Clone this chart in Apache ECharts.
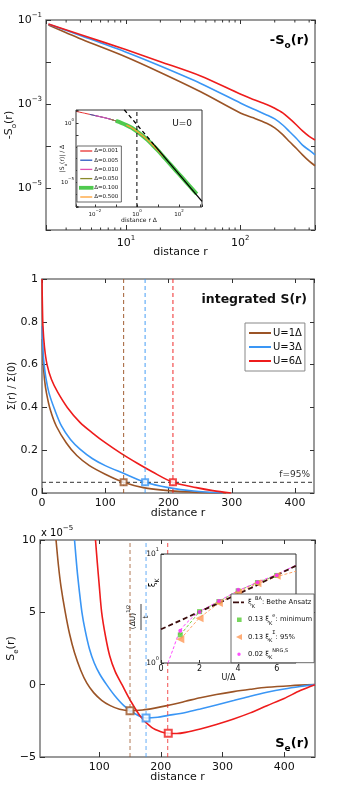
<!DOCTYPE html>
<html><head><meta charset="utf-8">
<script src="https://cdn.jsdelivr.net/npm/echarts@6/dist/echarts.min.js"></script>
<style>html,body{margin:0;padding:0;background:#fff}#c{width:349px;height:788px}</style>
</head><body><div id="c"></div>
<script>
// ---------------- Panel 1 : -S_o(r) (log-log) ----------------
const p1R        = [2.1, 4.1, 9.8, 20, 45, 101, 130, 170, 200, 235, 270, 310, 350, 400, 450];
const p1RedExp   = [-1.095, -1.357, -1.698, -1.993, -2.333, -2.77, -2.89, -3.01, -3.10, -3.21, -3.35, -3.50, -3.64, -3.77, -3.857];
const p1BlueExp  = [-1.10, -1.38, -1.755, -2.095, -2.51, -2.98, -3.12, -3.26, -3.355, -3.50, -3.66, -3.82, -3.98, -4.10, -4.21];
const p1BrownExp = [-1.12, -1.46, -1.87, -2.25, -2.71, -3.22, -3.33, -3.46, -3.57, -3.73, -3.90, -4.06, -4.21, -4.36, -4.47];
const p1MinorTicks = [3,4,5,6,7,8,9,20,30,40,50,60,70,80,90,200,300,400];
const p1XLabelExp = [1, 2];
const p1YLabelExp = [-1, -3, -5];

// inset of panel 1 (U=0 scaling collapse), log10 values
const insLogX = [-2.86,-2.5,-2.25,-2,-1.75,-1.5,-1.25,-1,-0.75,-0.5,-0.25,0,0.25,0.5,0.75,1,1.25,1.5,1.75,2,2.25,2.5,2.85];
const insLogY = [1.0,0.86,0.76,0.66,0.56,0.46,0.34,0.2,0.04,-0.15,-0.38,-0.68,-1.02,-1.4,-1.84,-2.3,-2.8,-3.3,-3.8,-4.3,-4.8,-5.3,-6.0];
const deltaNames  = ['Δ=0.001','Δ=0.005','Δ=0.010','Δ=0.050','Δ=0.100','Δ=0.500'];
const deltaFrom   = [-2.86, -2.25, -2.0, -1.25, -1.0, -0.5];
const deltaTo     = [0.75, 1.5, 1.75, 2.0, 2.85, 1.25];
const powerLawDashLog  = [[-0.6, 1.15], [0.83, -1.85]];
const powerLawSolidLog = [[0.83, -1.85], [3.1, -6.62]];
const insXLabelExp = [-2, 0, 2];
const insYLabelExp = [0, -5];

// ---------------- Panel 2 : integrated S(r) ----------------
const p2RedR   = [0, 0.5, 1.5, 4, 8, 15, 25, 40, 60, 80, 100, 125, 150, 175, 207, 244, 270, 299];
const p2RedV   = [1.0, 0.9, 0.78, 0.68, 0.6, 0.53, 0.47, 0.40, 0.33, 0.28, 0.235, 0.185, 0.14, 0.098, 0.05, 0.025, 0.011, 0.0];
const p2BlueR  = [0.5, 1, 2.7, 6, 11, 20, 31, 45, 60, 80, 100, 128, 163, 200, 240, 286];
const p2BlueV  = [0.78, 0.7, 0.62, 0.54, 0.468, 0.39, 0.312, 0.25, 0.205, 0.16, 0.128, 0.093, 0.05, 0.025, 0.009, 0.0];
const p2BrownR = [0.5, 1, 1.6, 4, 7, 13, 22.7, 38.5, 55, 75, 100, 129, 160, 200, 245, 291];
const p2BrownV = [0.72, 0.66, 0.62, 0.53, 0.468, 0.39, 0.312, 0.234, 0.175, 0.128, 0.088, 0.05, 0.025, 0.011, 0.003, 0.0];
const p2CutR   = [129, 163, 207];   // brown, blue, red
const p2Threshold = 0.05;
const p2Names  = ['U=1Δ', 'U=3Δ', 'U=6Δ'];

// ---------------- Panel 3 : S_e(r) (x 1e-5) ----------------
const p3BrownR = [30, 34, 38, 45, 52, 60, 70, 80, 91, 104, 118, 133, 150, 170, 190, 210, 240, 264, 290, 318, 345, 372, 410, 450];
const p3BrownV = [10, 8.2, 6.8, 5, 3.5, 2.2, 1.0, 0.1, -0.55, -1.08, -1.45, -1.7, -1.8, -1.75, -1.62, -1.45, -1.15, -0.9, -0.68, -0.48, -0.32, -0.18, -0.07, 0];
const p3BlueR  = [60, 64, 68, 72, 77, 84, 92, 101, 112, 125, 140, 157, 176, 195, 210, 240, 264, 290, 318, 345, 372, 400, 426, 450];
const p3BlueV  = [10, 8.0, 6.4, 5.0, 3.8, 2.5, 1.5, 0.72, 0, -0.75, -1.45, -1.98, -2.3, -2.25, -2.14, -1.92, -1.68, -1.4, -1.1, -0.8, -0.53, -0.3, -0.13, 0];
const p3RedR   = [94, 97, 100, 104, 110, 117, 126, 137, 150, 167, 185, 200, 212, 226, 240, 264, 290, 318, 345, 372, 400, 426, 450];
const p3RedV   = [10, 8.4, 6.9, 5.0, 3.4, 2.0, 0.9, 0, -1.05, -2.2, -2.95, -3.25, -3.36, -3.38, -3.3, -3.06, -2.75, -2.37, -1.95, -1.45, -0.95, -0.41, 0];
const p3MinR   = [150, 176, 212];
const p3MinV   = [-1.8, -2.3, -3.36];
const p3CutR   = [150, 176, 211];

// inset of panel 3 : xi_K vs U/Delta
const insU    = [1, 2, 3, 4, 5, 6];
const insMin  = [1.81, 2.96, 3.66, 4.59, 5.48, 6.36];
const ins95   = [1.65, 2.58, 3.55, 4.43, 5.4, 6.3];
const insNRG  = [1.98, 2.93, 3.7, 4.7, 5.5, 6.4];
const baU     = [0, 1, 2, 3, 4, 5, 6, 7];
const baXi    = [2.04, 2.45, 2.96, 3.55, 4.3, 5.2, 6.4, 7.8];
const nrgFitU = [0.36, 0.6, 1, 1.5, 2, 3, 4, 5, 6, 7];
const nrgFitXi= [1.0, 1.3, 1.98, 2.5, 2.95, 3.7, 4.6, 5.5, 6.5, 7.9];
const fit95U  = [1, 2, 3, 4, 5, 6, 7];
const fit95Xi = [1.65, 2.6, 3.55, 4.45, 5.35, 6.2, 6.95];

// ---------------- styling ----------------
const FONT = 'DejaVu Sans';
const TXT = '#111';
const C_RED = '#ee1c1c', C_BLUE = '#3a96f5', C_BROWN = '#9b5426';
const deltaColors = ['#e83030', '#2a56c0', '#e050b0', '#8a8a2a', '#4fca4f', '#ffa030'];
const deltaWidths = [1, 1, 1, 1, 4, 1.2];

function rich(f, bold) {
  const w = bold ? 'bold' : 'normal';
  return {
    b:   {fontSize: f, lineHeight: f + 6, fontWeight: w, fontFamily: FONT, color: TXT},
    sup: {fontSize: Math.max(4, Math.round(f * 0.68)), verticalAlign: 'top', fontWeight: w, fontFamily: FONT, color: TXT},
    sub: {fontSize: Math.max(4, Math.round(f * 0.68)), verticalAlign: 'bottom', fontWeight: w, fontFamily: FONT, color: TXT}
  };
}
function powLabel(list) {
  return function (v) {
    const l = Math.log10(v), e = Math.round(l);
    if (Math.abs(l - e) > 1e-6 || list.indexOf(e) < 0) return '';
    return '{b|10}{sup|' + (e < 0 ? '−' + (-e) : e) + '}';
  };
}
const tickIn = (len) => ({inside: true, length: len, lineStyle: {color: '#333', width: 1}});
const noLine = {show: false, onZero: false};
function mirrorX(grid, type, min, max, extra) {
  return Object.assign({gridIndex: grid, type: type, min: min, max: max, position: 'top',
    axisLine: noLine, axisLabel: {show: false}, axisTick: tickIn(4), splitLine: {show: false}}, extra || {});
}
function mirrorY(grid, type, min, max, extra) {
  return Object.assign({gridIndex: grid, type: type, min: min, max: max, position: 'right',
    axisLine: noLine, axisLabel: {show: false}, axisTick: tickIn(4), splitLine: {show: false}}, extra || {});
}
const nameStyle = (f) => ({fontSize: f, fontFamily: FONT, color: TXT});
const P1 = {xmin: 2, xmax: 450, ymin: 1e-6, ymax: 0.1};
const I1 = {xmin: Math.pow(10, -2.9), xmax: Math.pow(10, 3.1), ymin: Math.pow(10, -7.1), ymax: Math.pow(10, 1.13)};

const gridBase = {show: true, containLabel: false, outerBoundsMode: 'none'};
const grids = [
  Object.assign({left: 46, top: 20, width: 269, height: 210, borderColor: '#7a7a7a', borderWidth: 1.5}, gridBase),
  Object.assign({left: 76, top: 110, width: 126, height: 97, borderColor: '#333', borderWidth: 1, backgroundColor: '#fff', z: 5}, gridBase),
  Object.assign({left: 42, top: 279, width: 272, height: 214, borderColor: '#7a7a7a', borderWidth: 1.5}, gridBase),
  Object.assign({left: 40, top: 540, width: 275, height: 217, borderColor: '#7a7a7a', borderWidth: 1.5}, gridBase),
  Object.assign({left: 161, top: 554, width: 135, height: 109, borderColor: '#333', borderWidth: 1, backgroundColor: '#fff', z: 5}, gridBase)
];
const NM = {nameMoveOverlap: false};

const xAxes = [
  Object.assign({gridIndex: 0, type: 'log', logBase: 10, min: P1.xmin, max: P1.xmax, axisLine: noLine, axisTick: tickIn(5), splitLine: {show: false},
   axisLabel: {formatter: powLabel(p1XLabelExp), rich: rich(11), margin: 5},
   name: 'distance r', nameLocation: 'middle', nameGap: 17, nameTextStyle: nameStyle(11)}, NM),
  mirrorX(0, 'log', P1.xmin, P1.xmax, {logBase: 10}),
  Object.assign({gridIndex: 1, type: 'log', logBase: 10, min: I1.xmin, max: I1.xmax, z: 6, axisLine: noLine, axisTick: tickIn(2.5), splitLine: {show: false},
   axisLabel: {formatter: powLabel(insXLabelExp), rich: rich(5.5), margin: 2},
   name: 'distance r Δ', nameLocation: 'middle', nameGap: 10, nameTextStyle: nameStyle(6)}, NM),
  Object.assign({gridIndex: 2, type: 'value', min: 0, max: 430, interval: 100, axisLine: noLine, axisTick: tickIn(5), splitLine: {show: false},
   axisLabel: {fontSize: 11, fontFamily: FONT, color: TXT, margin: 5, showMaxLabel: false},
   name: 'distance r', nameLocation: 'middle', nameGap: 15, nameTextStyle: nameStyle(11)}, NM),
  mirrorX(2, 'value', 0, 430, {interval: 100}),
  Object.assign({gridIndex: 3, type: 'value', min: 4, max: 450, splitNumber: 4, axisLine: noLine, axisTick: tickIn(5), splitLine: {show: false},
   axisLabel: {fontSize: 11, fontFamily: FONT, color: TXT, margin: 5, showMinLabel: false, showMaxLabel: false},
   name: 'distance r', nameLocation: 'middle', nameGap: 15, nameTextStyle: nameStyle(11)}, NM),
  mirrorX(3, 'value', 4, 450, {splitNumber: 4}),
  Object.assign({gridIndex: 4, type: 'value', min: 0, max: 7, interval: 2, z: 6, axisLine: noLine, axisTick: tickIn(3), splitLine: {show: false},
   axisLabel: {fontSize: 8, fontFamily: FONT, color: TXT, margin: 2, showMaxLabel: false},
   name: 'U/Δ', nameLocation: 'middle', nameGap: 11, nameTextStyle: nameStyle(8)}, NM)
];
const yAxes = [
  Object.assign({gridIndex: 0, type: 'log', logBase: 10, min: P1.ymin, max: P1.ymax, axisLine: noLine, axisTick: tickIn(5), splitLine: {show: false},
   axisLabel: {formatter: powLabel(p1YLabelExp), rich: rich(11), margin: 4},
   name: '{b|-S}{sub|o}{b|(r)}', nameLocation: 'middle', nameGap: 28, nameRotate: 90, nameTextStyle: {rich: rich(11)}}, NM),
  mirrorY(0, 'log', P1.ymin, P1.ymax, {logBase: 10}),
  Object.assign({gridIndex: 1, type: 'log', logBase: 10, min: I1.ymin, max: I1.ymax, z: 6, axisLine: noLine, axisTick: tickIn(2.5), splitLine: {show: false},
   axisLabel: {formatter: powLabel(insYLabelExp), rich: rich(5.5), margin: 2},
   name: '{b||S}{sub|o}{b|(r)| / Δ}', nameLocation: 'middle', nameGap: 8, nameRotate: 90, nameTextStyle: {rich: rich(6)}}, NM),
  Object.assign({gridIndex: 2, type: 'value', min: 0, max: 1, interval: 0.2, axisLine: noLine, axisTick: tickIn(5), splitLine: {show: false},
   axisLabel: {fontSize: 11, fontFamily: FONT, color: TXT, margin: 4},
   name: 'Σ(r) / Σ(0)', nameLocation: 'middle', nameGap: 25, nameRotate: 90, nameTextStyle: nameStyle(10)}, NM),
  mirrorY(2, 'value', 0, 1, {interval: 0.2}),
  Object.assign({gridIndex: 3, type: 'value', min: -5, max: 10, interval: 5, axisLine: noLine, axisTick: tickIn(5), splitLine: {show: false},
   axisLabel: {fontSize: 11, fontFamily: FONT, color: TXT, margin: 4, formatter: v => String(v).replace('-', '−')},
   name: '{b|S}{sub|e}{b|(r)}', nameLocation: 'middle', nameGap: 20, nameRotate: 90, nameTextStyle: {rich: rich(11)}}, NM),
  mirrorY(3, 'value', -5, 10, {interval: 5}),
  {gridIndex: 4, type: 'log', logBase: 10, min: 1, max: 10, z: 6, axisLine: noLine, axisTick: tickIn(3), splitLine: {show: false},
   axisLabel: {formatter: powLabel([0, 1]), rich: rich(7.5), margin: 2}}
];

const series = [];
function line(xi, yi, data, color, width, extra) {
  series.push(Object.assign({type: 'line', xAxisIndex: xi, yAxisIndex: yi, data: data, symbol: 'none', showSymbol: false,
    lineStyle: {color: color, width: width}, itemStyle: {color: color}, silent: true, animation: false}, extra || {}));
}
const zip = (a, b, f) => a.map((v, i) => [v, f ? f(b[i]) : b[i]]);
const pow10 = (e) => Math.pow(10, e);

// panel 1 curves
line(0, 0, zip(p1R, p1BrownExp, pow10), C_BROWN, 1.6, {smooth: 0.3});
line(0, 0, zip(p1R, p1BlueExp, pow10), C_BLUE, 1.6, {smooth: 0.3});
line(0, 0, zip(p1R, p1RedExp, pow10), C_RED, 1.6, {smooth: 0.3});
series.push({type: 'custom', xAxisIndex: 0, yAxisIndex: 0, silent: true, animation: false,
  data: p1MinorTicks.map(v => [v, P1.ymin]),
  renderItem: function (params, api) {
    const v = api.value(0);
    const b = api.coord([v, P1.ymin]), t = api.coord([v, P1.ymax]);
    return {type: 'group', children: [
      {type: 'line', shape: {x1: b[0], y1: b[1], x2: b[0], y2: b[1] - 2.5}, style: {stroke: '#333', lineWidth: 1}},
      {type: 'line', shape: {x1: t[0], y1: t[1], x2: t[0], y2: t[1] + 2.5}, style: {stroke: '#333', lineWidth: 1}}
    ]};
  }});

// inset 1
deltaNames.forEach((nm, k) => {
  const pts = [];
  insLogX.forEach((lx, i) => { if (lx >= deltaFrom[k] - 1e-9 && lx <= deltaTo[k] + 1e-9) pts.push([pow10(lx), pow10(insLogY[i])]); });
  line(2, 2, pts, deltaColors[k], deltaWidths[k], {name: nm, z: 6, smooth: 0.3});
});
line(2, 2, powerLawDashLog.map(p => [pow10(p[0]), pow10(p[1])]), '#000', 1.3, {z: 7, lineStyle: {color: '#000', width: 1.3, type: [4, 3]}});
line(2, 2, powerLawSolidLog.map(p => [pow10(p[0]), pow10(p[1])]), '#000', 1.3, {z: 7});
line(2, 2, [[1, I1.ymin], [1, I1.ymax]], '#000', 1, {z: 7, lineStyle: {color: '#000', width: 1, type: [4, 3]}});

// panel 2
line(3, 3, zip(p2BrownR, p2BrownV), C_BROWN, 1.6, {name: p2Names[0], smooth: 0.3});
line(3, 3, zip(p2BlueR, p2BlueV), C_BLUE, 1.6, {name: p2Names[1], smooth: 0.3});
line(3, 3, zip(p2RedR, p2RedV), C_RED, 1.6, {name: p2Names[2], smooth: 0.3});
const cutColors = [C_BROWN, C_BLUE, C_RED];
p2CutR.forEach((r, k) => {
  line(3, 3, [[r, 0], [r, 1]], cutColors[k], 1.1, {lineStyle: {color: cutColors[k], width: 1.1, type: [4, 3], opacity: 0.85}});
});
line(3, 3, [[0, p2Threshold], [430, p2Threshold]], '#333', 1, {lineStyle: {color: '#333', width: 1, type: [4, 3]}});
p2CutR.forEach((r, k) => {
  series.push({type: 'scatter', xAxisIndex: 3, yAxisIndex: 3, data: [[r, p2Threshold]], symbol: 'emptyRect', symbolSize: 6,
    itemStyle: {color: cutColors[k], borderWidth: 1.4}, silent: true, animation: false, z: 4});
});

// panel 3
line(5, 5, zip(p3BrownR, p3BrownV), C_BROWN, 1.6, {smooth: 0.3});
line(5, 5, zip(p3BlueR, p3BlueV), C_BLUE, 1.6, {smooth: 0.3});
line(5, 5, zip(p3RedR, p3RedV), C_RED, 1.6, {smooth: 0.3});
p3CutR.forEach((r, k) => {
  line(5, 5, [[r, -5], [r, 10]], cutColors[k], 1.3, {lineStyle: {color: cutColors[k], width: 1.3, type: [4, 3], opacity: 0.6}});
});
p3MinR.forEach((r, k) => {
  series.push({type: 'scatter', xAxisIndex: 5, yAxisIndex: 5, data: [[r, p3MinV[k]]], symbol: 'emptyRect', symbolSize: 7,
    itemStyle: {color: cutColors[k], borderWidth: 1.4}, silent: true, animation: false, z: 4});
});

// inset 3
line(7, 7, zip(baU, baXi), '#3a0c0c', 1.8, {name: 'BA', z: 7, lineStyle: {color: '#3a0c0c', width: 1.8, type: [5, 3]}});
line(7, 7, zip(insU, insMin), '#66cc33', 0.9, {z: 6, lineStyle: {color: '#66cc33', width: 0.9, type: [3, 2]}});
line(7, 7, zip(fit95U, fit95Xi), '#ff9955', 0.9, {z: 6, lineStyle: {color: '#ff9955', width: 0.9, type: [3, 2]}});
line(7, 7, zip(nrgFitU, nrgFitXi), '#ff33ff', 0.9, {z: 6, smooth: 0.3, lineStyle: {color: '#ff33ff', width: 0.9, type: [3, 2]}});
series.push({type: 'scatter', name: 'min', xAxisIndex: 7, yAxisIndex: 7, data: zip(insU, insMin), symbol: 'rect', symbolSize: 5,
  itemStyle: {color: '#55cc33'}, z: 7, silent: true, animation: false});
series.push({type: 'scatter', name: 's95', xAxisIndex: 7, yAxisIndex: 7, data: zip(insU, ins95), symbol: 'triangle', symbolRotate: 90, symbolSize: 8,
  itemStyle: {color: '#ff9955'}, z: 7, silent: true, animation: false});
series.push({type: 'scatter', name: 'nrg', xAxisIndex: 7, yAxisIndex: 7, data: zip(insU, insNRG), symbol: 'circle', symbolSize: 4,
  itemStyle: {color: '#ff22ff'}, z: 8, silent: true, animation: false});

const insLegendText = {
  BA:  '{b|ξ}{sub|K}{sup|BA}{b|: Bethe Ansatz}',
  min: '{b|0.13 ξ}{sub|K}{sup|e}{b|: minimum}',
  s95: '{b|0.13 ξ}{sub|K}{sup|Σ}{b|: 95%}',
  nrg: '{b|0.02 ξ}{sub|K}{sup|NRG,S}'
};
const BOX = 'M0,0L0.01,0M12,7L12.01,7';
const insLegendIcons = {
  BA:  'path://' + BOX + 'M0,2.6h6v1.8h-6zM8,2.6h3v1.8h-3z',
  min: 'path://' + BOX + 'M4,1.2h4.6v4.6h-4.6z',
  s95: 'path://' + BOX + 'M3,3.5L9,0.5L9,6.5z',
  nrg: 'path://' + BOX + 'M4.3,3.5a1.7,1.7 0 1,0 3.4,0a1.7,1.7 0 1,0 -3.4,0z'
};

const legends = [
  {left: 77, top: 146, orient: 'vertical', itemWidth: 12, itemHeight: 1.3, itemGap: 3.2,
   data: deltaNames.map((n, k) => ({name: n, icon: 'rect', itemStyle: k === 4 ? {borderColor: deltaColors[4], borderWidth: 2.5} : {}})),
   padding: [2, 3, 2, 2], borderColor: '#444', borderWidth: 0.8, backgroundColor: '#fff', z: 9, selectedMode: false,
   textStyle: {fontSize: 5.5, fontFamily: FONT, color: TXT, padding: [0, 0, 0, -3]}},
  {left: 245, top: 323, orient: 'vertical', itemWidth: 22, itemHeight: 2, itemGap: 4,
   data: p2Names.map(n => ({name: n, icon: 'rect'})),
   padding: [5, 3, 5, 4], borderColor: '#888', borderWidth: 1, backgroundColor: '#fff', z: 9, selectedMode: false,
   textStyle: {fontSize: 10, fontFamily: FONT, color: TXT, padding: [0, 0, 0, -3]}},
  {left: 231, top: 594, orient: 'vertical', itemWidth: 12, itemHeight: 7, itemGap: 4.5,
   data: ['BA', 'min', 's95', 'nrg'].map(n => ({name: n, icon: insLegendIcons[n]})),
   padding: [2, 2, 2, 2], borderColor: '#444', borderWidth: 0.8, backgroundColor: '#fff', z: 9, selectedMode: false,
   formatter: n => insLegendText[n], textStyle: {fontSize: 6.8, fontFamily: FONT, color: TXT, rich: rich(6.8), padding: [0, 0, 0, -2]}}
];

const graphic = [
  {type: 'text', z: 20, style: {text: '{b|-S}{sub|o}{b|(r)}', rich: rich(13, true), x: 309, y: 41, align: 'right', verticalAlign: 'middle'}},
  {type: 'text', z: 20, style: {text: 'integrated S(r)', x: 307, y: 300, align: 'right', verticalAlign: 'middle', font: 'bold 12.5px ' + FONT, fill: TXT}},
  {type: 'text', z: 20, style: {text: '{b|S}{sub|e}{b|(r)}', rich: rich(13, true), x: 309, y: 744, align: 'right', verticalAlign: 'middle'}},
  {type: 'text', z: 20, style: {text: 'U=0', x: 192, y: 124, align: 'right', verticalAlign: 'middle', font: '9px ' + FONT, fill: TXT}},
  {type: 'text', z: 20, style: {text: 'f=95%', x: 310, y: 475, align: 'right', verticalAlign: 'middle', font: '9px ' + FONT, fill: '#333'}},
  {type: 'text', z: 20, style: {text: '{b|x 10}{sup|−5}', rich: rich(10), x: 41, y: 533, align: 'left', verticalAlign: 'middle'}},
  {type: 'group', x: 141, y: 617, rotation: Math.PI / 2, z: 20, children: [
    {type: 'text', style: {text: '{b|(ΔU)}{sup|1/2}', rich: rich(7.5), x: 0, y: -1, align: 'center', verticalAlign: 'bottom'}},
    {type: 'line', shape: {x1: -13, y1: 0, x2: 13, y2: 0}, style: {stroke: TXT, lineWidth: 0.8}},
    {type: 'text', style: {text: 't', font: '7.5px ' + FONT, fill: TXT, x: 0, y: 1, align: 'center', verticalAlign: 'top'}},
    {type: 'text', style: {text: '{b|ξ}{sub|K}', rich: rich(8.5), x: 34, y: 12, align: 'center', verticalAlign: 'middle'}}
  ]}
];

const chart = echarts.init(document.getElementById('c'), null, {renderer: 'canvas'});
chart.setOption({
  animation: false,
  backgroundColor: '#fff',
  textStyle: {fontFamily: FONT},
  grid: grids, xAxis: xAxes, yAxis: yAxes, series: series, legend: legends, graphic: graphic
});
</script></body></html>
